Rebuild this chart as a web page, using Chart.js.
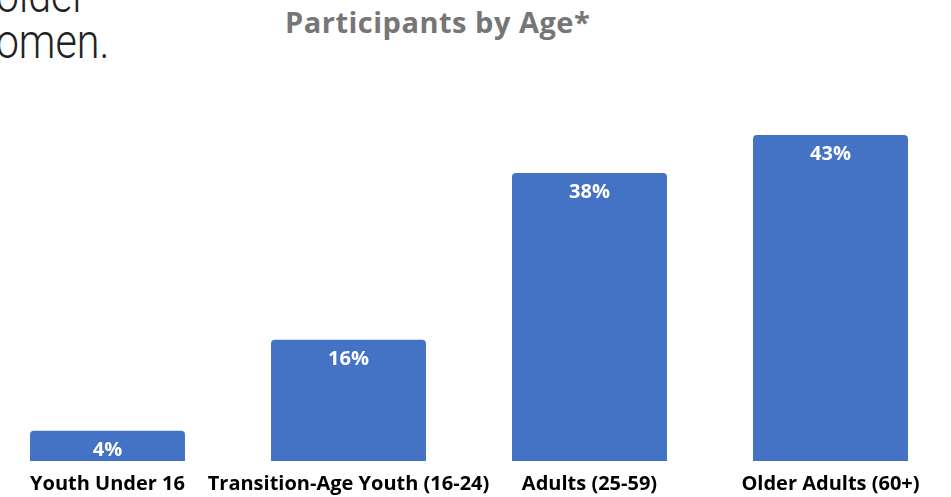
<!DOCTYPE html>
<html lang="en">
<head>
    <meta charset="UTF-8">
    <title>Participants by Age</title>
    <script src="https://cdn.jsdelivr.net/npm/chart.js"></script>
    <style>
        body {
            margin: 0;
            width: 951px;
            height: 497px;
            overflow: hidden;
            position: relative;
            background: #fff;
        }
        .slide-text {
            position: absolute;
            right: 842px;
            font-family: Roboto, sans-serif;
            font-weight: 300;
            font-size: 48px;
            line-height: 48px;
            color: #222;
            white-space: nowrap;
            text-align: right;
            transform: scaleX(0.86);
            transform-origin: right center;
        }
        #title {
            position: absolute;
            left: 285px;
            top: 2px;
            font-family: "Open Sans", sans-serif;
            font-weight: bold;
            font-size: 29px;
            letter-spacing: 0.5px;
            color: #767676;
            white-space: nowrap;
        }
        #ageChart {
            position: absolute;
            left: -13px;
            top: 0;
        }
    </style>
</head>
<body>
    <div class="slide-text" style="top:-28px; right:865px;">older</div>
    <div class="slide-text" style="top:18px;">women.</div>
    <div id="title">Participants by Age*</div>
    <canvas id="ageChart" width="964" height="497"></canvas>

    <script>
        const categories = ['Youth Under 16', 'Transition-Age Youth (16-24)', 'Adults (25-59)', 'Older Adults (60+)'];
        const shares = [4, 16, 38, 43];

        // white percentage label near the top of each bar
        const barLabels = {
            id: 'barLabels',
            afterDatasetsDraw(chart) {
                const ctx = chart.ctx;
                const meta = chart.getDatasetMeta(0);
                ctx.save();
                ctx.fillStyle = '#ffffff';
                ctx.font = 'bold 20px "Open Sans", sans-serif';
                ctx.textAlign = 'center';
                ctx.textBaseline = 'middle';
                meta.data.forEach((bar, i) => {
                    ctx.fillText(shares[i] + '%', bar.x, bar.y + 19.5);
                });
                ctx.restore();
            }
        };

        const ctx = document.getElementById('ageChart').getContext('2d');
        new Chart(ctx, {
            type: 'bar',
            data: {
                labels: categories,
                datasets: [{
                    data: shares,
                    backgroundColor: '#4472C4',
                    borderRadius: { topLeft: 4, topRight: 4, bottomLeft: 0, bottomRight: 0 },
                    borderSkipped: false,
                    categoryPercentage: 1,
                    barPercentage: 0.643
                }]
            },
            options: {
                responsive: false,
                animation: false,
                layout: { padding: { top: 82, bottom: 0, left: 0, right: 0 } },
                plugins: {
                    legend: { display: false },
                    tooltip: { enabled: false }
                },
                scales: {
                    x: {
                        grid: { display: false },
                        border: { display: false },
                        afterFit(scale) {
                            scale.height = 36;
                        },
                        ticks: {
                            color: '#000',
                            padding: 3,
                            maxRotation: 0,
                            autoSkip: false,
                            font: { family: '"Open Sans", sans-serif', size: 20, weight: 'bold' }
                        }
                    },
                    y: {
                        display: false,
                        min: 0,
                        max: 50
                    }
                }
            },
            plugins: [barLabels]
        });
    </script>
</body>
</html>
